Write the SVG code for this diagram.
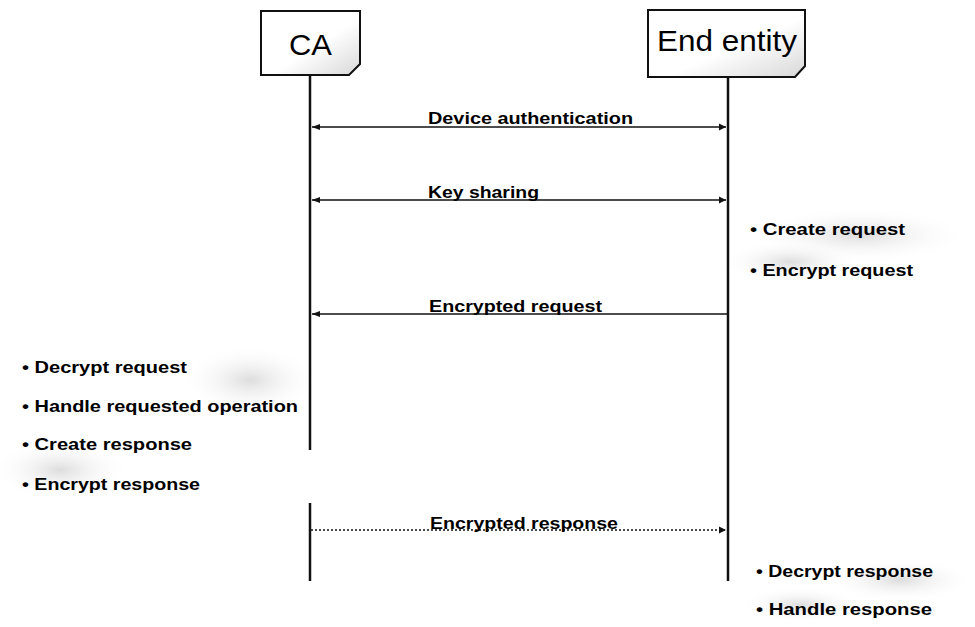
<svg xmlns="http://www.w3.org/2000/svg" width="975" height="627" viewBox="0 0 975 627">
<style>
.box{fill:url(#g);stroke:#111;stroke-width:2}
.life{stroke:#111;stroke-width:2.5;fill:none}
.msg{stroke:#111;stroke-width:1.6;fill:none}
.dash{stroke-dasharray:2 2}
.t{font-family:"Liberation Sans",Arial,sans-serif;font-size:16px;font-weight:bold;fill:#000}
.h{font-family:"Liberation Sans",Arial,sans-serif;font-size:30px;fill:#000}
.sh{fill:url(#sg)}
</style>
<defs>
<linearGradient id="g" x1="0" y1="0" x2="1" y2="1">
<stop offset="0.55" stop-color="#fff"/>
<stop offset="1" stop-color="#d8d8d8"/>
</linearGradient>
<radialGradient id="sg">
<stop offset="0" stop-color="#ddd"/>
<stop offset="1" stop-color="#fff" stop-opacity="0"/>
</radialGradient>
<marker id="al" markerWidth="10" markerHeight="10" refX="1" refY="5" orient="auto" markerUnits="userSpaceOnUse">
<path d="M9,2 L1,5 L9,8 Z" fill="#111"/>
</marker>
<marker id="ar" markerWidth="10" markerHeight="10" refX="8" refY="5" orient="auto" markerUnits="userSpaceOnUse">
<path d="M1,1.5 L8,5 L1,8.5 Z" fill="#111"/>
</marker>
</defs>
<g id="shading">
<ellipse class="sh" cx="860" cy="235" rx="110" ry="28"/>
<ellipse class="sh" cx="790" cy="262" rx="70" ry="22"/>
<ellipse class="sh" cx="250" cy="380" rx="70" ry="35"/>
<ellipse class="sh" cx="60" cy="470" rx="70" ry="30"/>
<ellipse class="sh" cx="900" cy="580" rx="75" ry="22"/>
<ellipse class="sh" cx="800" cy="605" rx="60" ry="18"/>
</g>
<g id="ca">
<path class="box" d="M261,11 H360 V64 L349,75 H261 Z"/>
<text class="h" x="289" y="55" textLength="43" lengthAdjust="spacingAndGlyphs">CA</text>
</g>
<g id="ee">
<path class="box" d="M648,10 H805 V66 L795,77 H648 Z"/>
<text class="h" x="657" y="51" textLength="140" lengthAdjust="spacingAndGlyphs">End entity</text>
</g>
<g id="lifelines">
<line class="life" x1="310" y1="75" x2="310" y2="450"/>
<line class="life" x1="310" y1="503" x2="310" y2="581"/>
<line class="life" x1="728" y1="77" x2="728" y2="581"/>
</g>
<g id="connectors">
<line class="msg" x1="312" y1="127" x2="726" y2="127" marker-start="url(#al)" marker-end="url(#ar)"/>
<line class="msg" x1="312" y1="200" x2="726" y2="200" marker-start="url(#al)" marker-end="url(#ar)"/>
<line class="msg" x1="312" y1="314" x2="727" y2="314" marker-start="url(#al)"/>
<line class="msg dash" x1="311" y1="530" x2="726" y2="530" marker-end="url(#ar)"/>
</g>
<g id="labels">
<text class="t" x="428" y="124" textLength="205" lengthAdjust="spacingAndGlyphs">Device authentication</text>
<text class="t" x="428" y="198" textLength="111" lengthAdjust="spacingAndGlyphs">Key sharing</text>
<text class="t" x="429" y="312" textLength="173" lengthAdjust="spacingAndGlyphs">Encrypted request</text>
<text class="t" x="430" y="529" textLength="188" lengthAdjust="spacingAndGlyphs">Encrypted response</text>
</g>
<g id="ee-notes1">
<text class="t" x="750" y="235" textLength="155" lengthAdjust="spacingAndGlyphs">• Create request</text>
<text class="t" x="750" y="276" textLength="163" lengthAdjust="spacingAndGlyphs">• Encrypt request</text>
</g>
<g id="ca-notes">
<text class="t" x="22" y="373" textLength="165" lengthAdjust="spacingAndGlyphs">• Decrypt request</text>
<text class="t" x="22" y="412" textLength="276" lengthAdjust="spacingAndGlyphs">• Handle requested operation</text>
<text class="t" x="22" y="450" textLength="170" lengthAdjust="spacingAndGlyphs">• Create response</text>
<text class="t" x="22" y="490" textLength="178" lengthAdjust="spacingAndGlyphs">• Encrypt response</text>
</g>
<g id="ee-notes2">
<text class="t" x="756" y="577" textLength="177" lengthAdjust="spacingAndGlyphs">• Decrypt response</text>
<text class="t" x="756" y="615" textLength="176" lengthAdjust="spacingAndGlyphs">• Handle response</text>
</g>
</svg>
